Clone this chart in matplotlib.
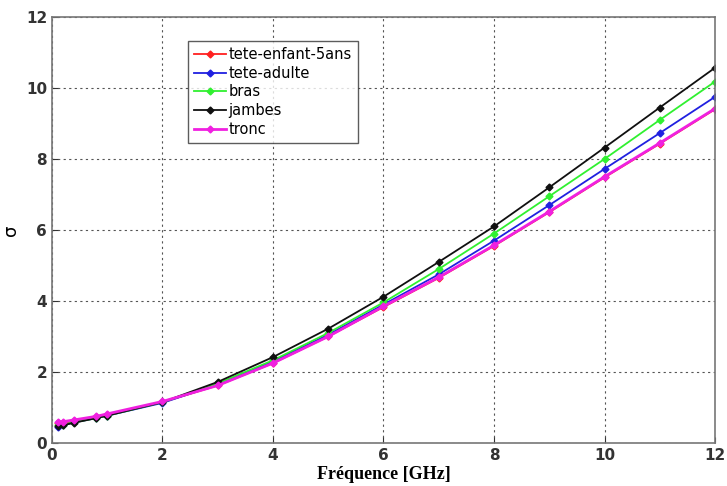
import matplotlib
matplotlib.use('Agg')
import matplotlib.pyplot as plt

freq = [0.1, 0.2, 0.4, 0.8, 1, 2, 3, 4, 5, 6, 7, 8, 9, 10, 11, 12]

tete_enfant = [0.55, 0.55, 0.62, 0.73, 0.80, 1.15, 1.62, 2.25, 3.00, 3.83, 4.65, 5.55, 6.50, 7.48, 8.43, 9.40]
tete_adulte = [0.45, 0.50, 0.58, 0.70, 0.77, 1.13, 1.65, 2.30, 3.05, 3.90, 4.75, 5.70, 6.70, 7.72, 8.73, 9.75]
bras = [0.50, 0.52, 0.58, 0.70, 0.77, 1.15, 1.68, 2.33, 3.10, 3.96, 4.90, 5.90, 6.95, 8.00, 9.10, 10.18]
jambes = [0.48, 0.50, 0.57, 0.70, 0.77, 1.15, 1.72, 2.42, 3.22, 4.12, 5.10, 6.10, 7.20, 8.32, 9.45, 10.57]
tronc = [0.60, 0.60, 0.65, 0.75, 0.82, 1.17, 1.62, 2.25, 3.00, 3.85, 4.67, 5.57, 6.52, 7.50, 8.45, 9.42]

series = [
    ('tete-enfant-5ans', tete_enfant, '#ff2020'),
    ('tete-adulte', tete_adulte, '#2020e0'),
    ('bras', bras, '#30f030'),
    ('jambes', jambes, '#101010'),
    ('tronc', tronc, '#f020e0'),
]

fig = plt.figure(figsize=(7.27, 4.86), dpi=100)
ax = fig.add_axes([0.0715, 0.0885, 0.912, 0.8765])

for name, vals, col in series:
    lw = 2.0 if name == 'tronc' else 1.3
    ax.plot(freq, vals, '-', color=col, marker='D', markersize=3.5, linewidth=lw, label=name)

ax.set_xlim(0, 12)
ax.set_ylim(0, 12)
ax.set_xticks(range(0, 13, 2))
ax.set_yticks(range(0, 13, 2))
ax.tick_params(labelsize=11, colors='#333333', direction='in', length=4)
for lab in ax.get_xticklabels() + ax.get_yticklabels():
    lab.set_fontweight('bold')

ax.grid(True, linestyle=(0, (2, 3)), color='#555555', linewidth=0.8)
for sp in ax.spines.values():
    sp.set_color('#777777')
    sp.set_linewidth(1.2)

ax.set_xlabel('Fréquence [GHz]', fontsize=13, fontweight='bold', family='Liberation Serif', labelpad=2)
ax.set_ylabel('σ', fontsize=13, labelpad=4)

leg = ax.legend(loc='upper left', bbox_to_anchor=(0.205, 0.943), borderaxespad=0, fontsize=10.5,
                frameon=True, fancybox=False, edgecolor='#333333', handlelength=2.2, borderpad=0.4,
                labelspacing=0.25, handletextpad=0.2)
leg.get_frame().set_linewidth(1.0)

plt.savefig('out.png', dpi=100, facecolor='white')
plt.close()
